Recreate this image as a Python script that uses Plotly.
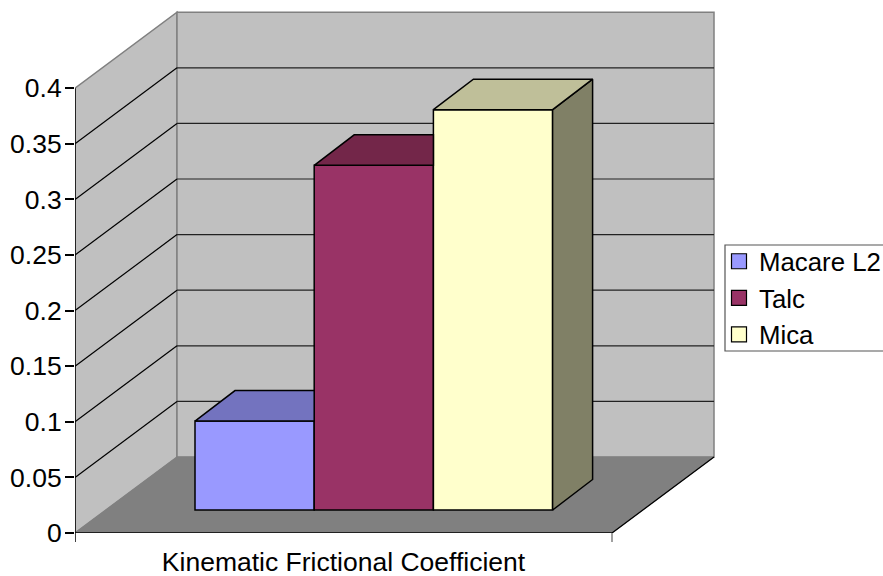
import plotly.graph_objects as go

categories = ["Kinematic Frictional Coefficient"]
series_names = ["Macare L2", "Talc", "Mica"]
series_values = [0.08, 0.31, 0.36]
front_colors = ["#9999FF", "#993366", "#FFFFCC"]
top_colors = ["#7373BF", "#732649", "#BFBF99"]
side_colors = ["#73738F", "#4D1A33", "#808066"]
y_ticks = [0, 0.05, 0.1, 0.15, 0.2, 0.25, 0.3, 0.35, 0.4]
y_tick_text = ["0", "0.05", "0.1", "0.15", "0.2", "0.25", "0.3", "0.35", "0.4"]

# Layout constants (x axis is in pixels from the front-left corner)
W, H = 883, 576
L, B = 75, 43
TOP_M, RIGHT_M = 6, 163
PX_PER_UNIT = 1112.0
FRONT_W = 537
DX, DY = 102, 76 / PX_PER_UNIT           # wall depth offset
BAR_X0, BAR_W = 120, 119.2
BAR_BASE = 23 / PX_PER_UNIT
BAR_DX, BAR_DY = 40, 30.5 / PX_PER_UNIT
FONT = dict(family="Liberation Sans, Arial, sans-serif", size=26.5, color="black")
LEGEND_FONT = dict(family="Liberation Sans, Arial, sans-serif", size=25.8, color="black")
X_MAX = W - L - RIGHT_M
Y_MAX = (H - B - TOP_M) / PX_PER_UNIT
Y_WALL = y_ticks[-1] + DY


def paper_x(px):
    return (px - L) / X_MAX


def paper_y(py):
    return (H - B - py) / (H - B - TOP_M)


shapes = [
    # side wall
    dict(type="path", layer="below", line=dict(color="#808080", width=1.5), fillcolor="#C0C0C0",
         path=f"M0,0 L{DX},{DY} L{DX},{Y_WALL} L0,{y_ticks[-1]} Z"),
    # back wall
    dict(type="rect", layer="below", line=dict(color="#808080", width=1.5), fillcolor="#C0C0C0",
         x0=DX, x1=DX + FRONT_W, y0=DY, y1=Y_WALL),
]
for v in y_ticks[1:-1]:
    shapes.append(dict(type="line", layer="below", x0=0, x1=DX, y0=v, y1=v + DY,
                       line=dict(color="black", width=1.2)))
    shapes.append(dict(type="line", layer="below", x0=DX, x1=DX + FRONT_W, y0=v + DY, y1=v + DY,
                       line=dict(color="#222222", width=1.2)))
# floor
shapes.append(dict(type="path", layer="below", line=dict(color="#808080", width=0.5), fillcolor="#808080",
                   path=f"M0,0 L{FRONT_W},0 L{FRONT_W + DX},{DY} L{DX},{DY} Z"))
# x tick marks
for xv, col in [(0, "black"), (FRONT_W, "#808080")]:
    shapes.append(dict(type="line", xref="x", yref="paper", x0=xv, x1=xv, y0=0, y1=paper_y(H - B + 9),
                       line=dict(color=col, width=1.5)))
# legend box
shapes.append(dict(type="rect", xref="paper", yref="paper", x0=paper_x(725), x1=paper_x(892),
                   y0=paper_y(351), y1=paper_y(245), line=dict(color="#555555", width=1.2),
                   fillcolor="white", layer="below"))

fig = go.Figure()

# front faces
xs = [BAR_X0 + BAR_W * (i + 0.5) for i in range(len(series_values))]
for i, (name, v) in enumerate(zip(series_names, series_values)):
    fig.add_trace(go.Bar(x=[xs[i]], y=[v], base=[BAR_BASE], width=[BAR_W], name=name, showlegend=False,
                         marker=dict(color=front_colors[i], line=dict(color="black", width=1.5)),
                         hoverinfo="skip"))

# top and side faces
for i, v in enumerate(series_values):
    y_top = BAR_BASE + v
    x0 = xs[i] - BAR_W / 2
    x1 = xs[i] + BAR_W / 2
    taller_next = i + 1 < len(series_values) and series_values[i + 1] > v
    outline = dict(color="black", width=1.5)
    if taller_next:
        tx = [x0, x0 + BAR_DX, x1, x1, x0]
        ty = [y_top, y_top + BAR_DY, y_top + BAR_DY, y_top, y_top]
    else:
        tx = [x0, x0 + BAR_DX, x1 + BAR_DX, x1, x0]
        ty = [y_top, y_top + BAR_DY, y_top + BAR_DY, y_top, y_top]
        sx = [x1, x1 + BAR_DX, x1 + BAR_DX, x1, x1]
        sy = [BAR_BASE, BAR_BASE + BAR_DY, y_top + BAR_DY, y_top, BAR_BASE]
        fig.add_trace(go.Scatter(x=sx, y=sy, mode="lines", fill="toself", fillcolor=side_colors[i],
                                 line=outline, showlegend=False, hoverinfo="skip"))
    fig.add_trace(go.Scatter(x=tx, y=ty, mode="lines", fill="toself", fillcolor=top_colors[i],
                             line=outline, showlegend=False, hoverinfo="skip"))

# axis and floor edges, drawn unclipped
fig.add_trace(go.Scatter(x=[0, 0], y=[0, y_ticks[-1]], mode="lines", line=dict(color="black", width=1.5),
                         cliponaxis=False, showlegend=False, hoverinfo="skip"))
fig.add_trace(go.Scatter(x=[0, FRONT_W, FRONT_W + DX], y=[0, 0, DY], mode="lines",
                         line=dict(color="black", width=1.3), cliponaxis=False,
                         showlegend=False, hoverinfo="skip"))

# legend entries
for name, col in zip(series_names, front_colors):
    fig.add_trace(go.Scatter(x=[None], y=[None], mode="markers", name=name,
                             marker=dict(symbol="square", size=15, color=col,
                                         line=dict(color="black", width=1.2))))

fig.update_layout(
    width=W, height=H,
    margin=dict(l=L, r=RIGHT_M, t=TOP_M, b=B, autoexpand=False),
    paper_bgcolor="white", plot_bgcolor="white",
    font=FONT,
    barmode="overlay",
    shapes=shapes,
    xaxis=dict(range=[0, X_MAX], tickmode="array", tickvals=[FRONT_W / 2], ticktext=categories,
               ticks="", showgrid=False, zeroline=False, showline=False, tickfont=FONT,
               ticklabelstandoff=10),
    yaxis=dict(range=[0, Y_MAX], tickmode="array", tickvals=y_ticks, ticktext=y_tick_text,
               ticks="outside", ticklen=9, tickwidth=1.5, tickcolor="black",
               showgrid=False, zeroline=False, showline=False, tickfont=FONT,
               ticklabelstandoff=-2),
    legend=dict(x=paper_x(719), y=paper_y(238), xanchor="left", yanchor="top",
                bgcolor="rgba(0,0,0,0)", borderwidth=0, font=LEGEND_FONT, itemsizing="trace",
                traceorder="normal"),
    showlegend=True,
)

fig.write_html("out.html", post_script="document.body.style.margin='0';document.body.style.overflow='hidden';",
               config=dict(displayModeBar=False))
